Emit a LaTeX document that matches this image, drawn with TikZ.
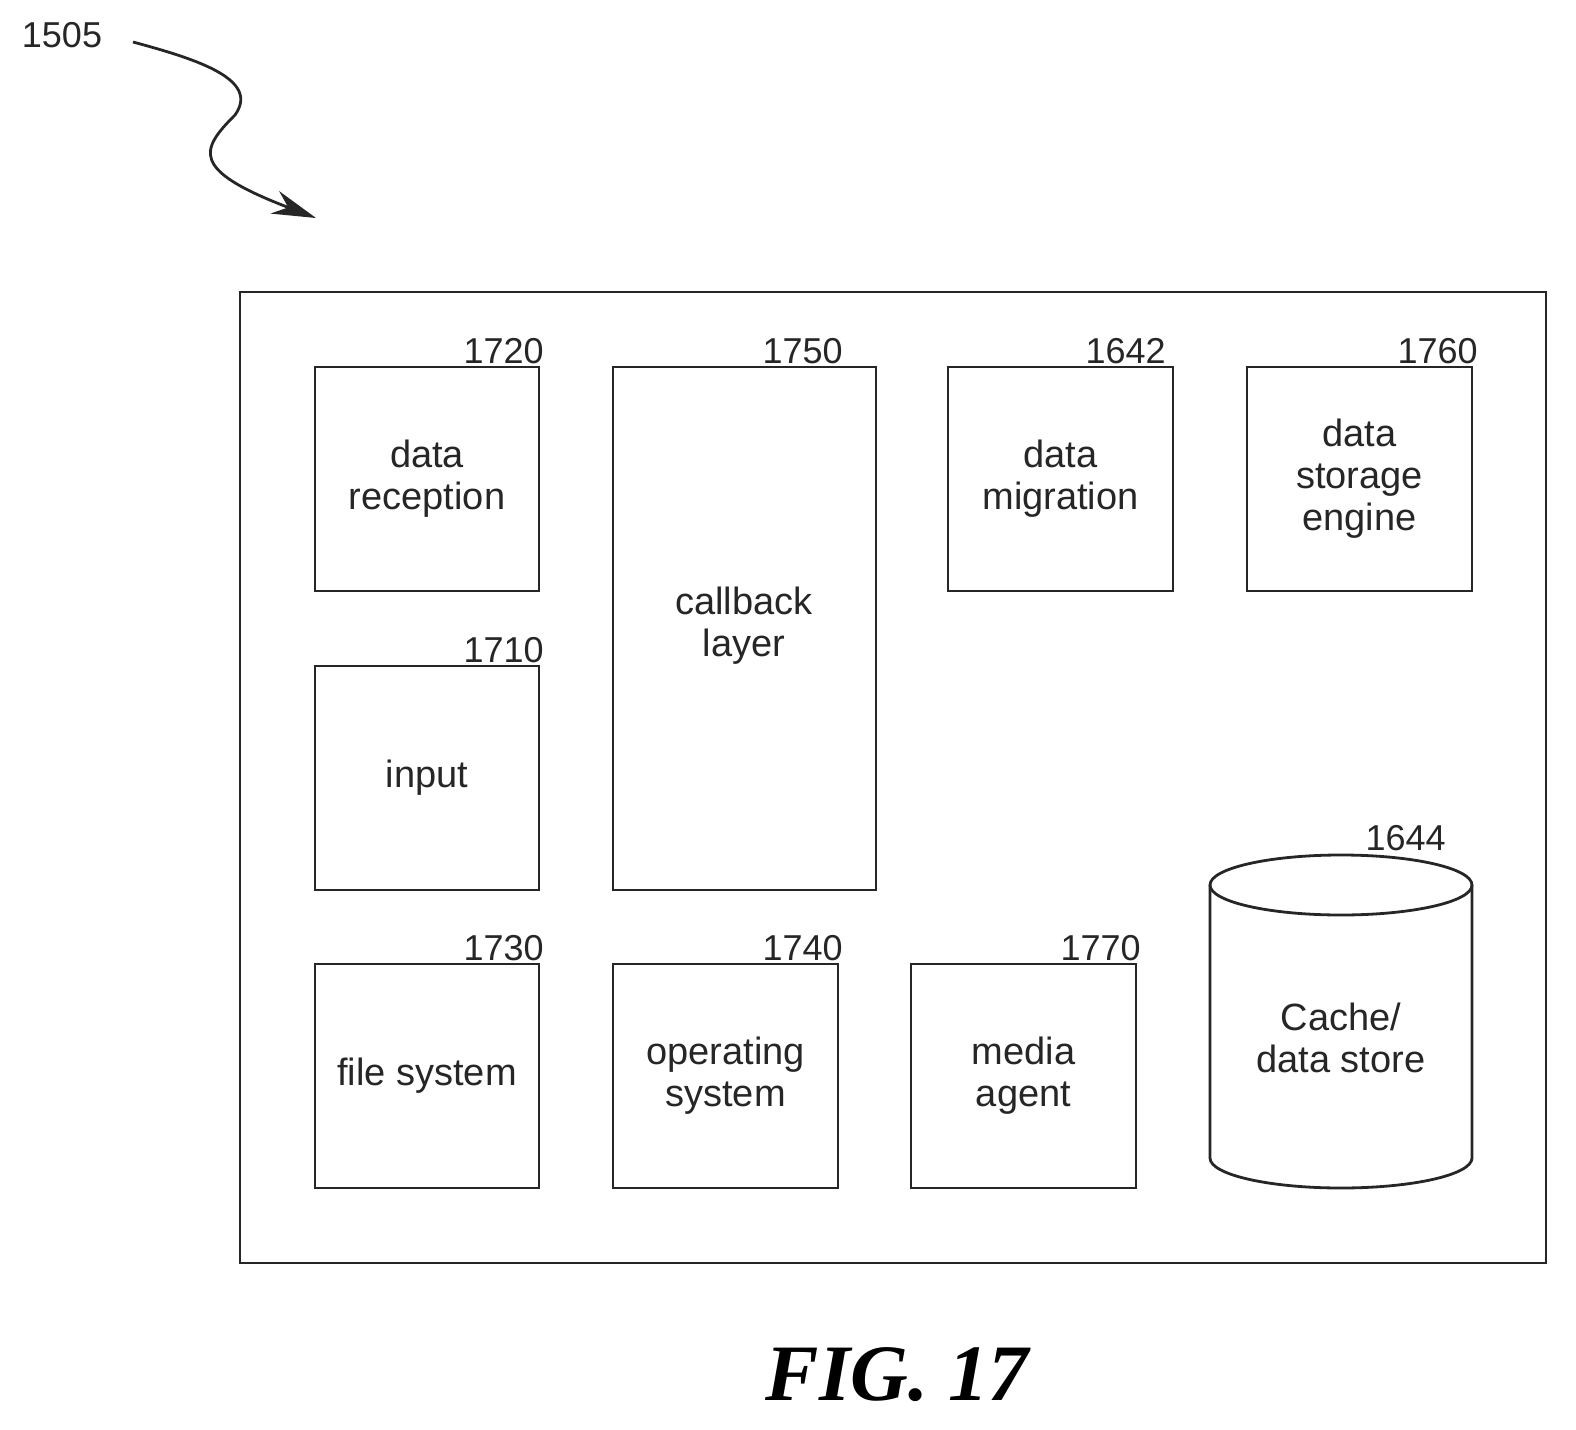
\documentclass[tikz,border=0pt]{standalone}
\usepackage{fontspec}
\setmainfont{Liberation Sans}
\newfontfamily\figfont{Liberation Serif}
\usetikzlibrary{arrows.meta}
\begin{document}
\begin{tikzpicture}[x=0.5pt,y=-0.5pt,
  box/.style={draw=black!85,line width=1.4pt,inner sep=0pt},
  lbl/.style={font=\fontsize{19}{21}\selectfont,align=center,text=black!85},
  num/.style={font=\fontsize{18}{20}\selectfont,anchor=south east,inner sep=1pt,text=black!85}]
\useasboundingbox (0,0) rectangle (1576,1430);
\draw[box] (240,292) rectangle (1546,1263);
\node[inner sep=0pt] (outer) at (893,777) {};
\newcommand{\mybox}[6]{%
  \draw[box] (#1,#2) rectangle (#3,#4);
  \node[lbl] (#5) at ({(#1+#3)/2},{(#2+#4)/2}) {#6};}
\mybox{315}{367}{539}{591}{b1720}{data\\reception}
\node[num] (n1720) at (546,366) {1720};
\mybox{613}{367}{876}{890}{b1750}{}
\node[lbl] at (744,626) {callback\\layer};
\node[num] (n1750) at (845,366) {1750};
\mybox{948}{367}{1173}{591}{b1642}{data\\migration}
\node[num] (n1642) at (1168,366) {1642};
\mybox{1247}{367}{1472}{591}{b1760}{data\\storage\\engine}
\node[num] (n1760) at (1480,366) {1760};
\mybox{315}{666}{539}{890}{b1710}{input}
\node[num] (n1710) at (546,665) {1710};
\mybox{315}{964}{539}{1188}{b1730}{file system}
\node[num] (n1730) at (546,963) {1730};
\mybox{613}{964}{838}{1188}{b1740}{operating\\system}
\node[num] (n1740) at (845,963) {1740};
\mybox{911}{964}{1136}{1188}{b1770}{media\\agent}
\node[num] (n1770) at (1143,963) {1770};
% cylinder
\draw[box] (1210,885) arc[start angle=180,end angle=360,x radius=131,y radius=30]
  -- (1472,1158) arc[start angle=0,end angle=180,x radius=131,y radius=30] -- cycle;
\draw[box] (1210,885) arc[start angle=180,end angle=0,x radius=131,y radius=30];
\node[lbl] (cache) at (1341,1038) {Cache/\\data store};
\node[num] (n1644) at (1448,853) {1644};
\node[font=\fontsize{18}{20}\selectfont,text=black!85] (n1505) at (62,35) {1505};
\coordinate (tip) at (316,218);
\draw[black!85,line width=1.4pt,-{Stealth[length=22pt,width=12pt]}] (133,42)
  .. controls (200,60) and (260,80) .. (235,115)
  .. controls (200,150) and (190,170) .. (tip);
\node[font=\figfont\bfseries\itshape\fontsize{40}{44}\selectfont] (fig) at (897,1375) {FIG. 17};
\end{tikzpicture}
\end{document}
